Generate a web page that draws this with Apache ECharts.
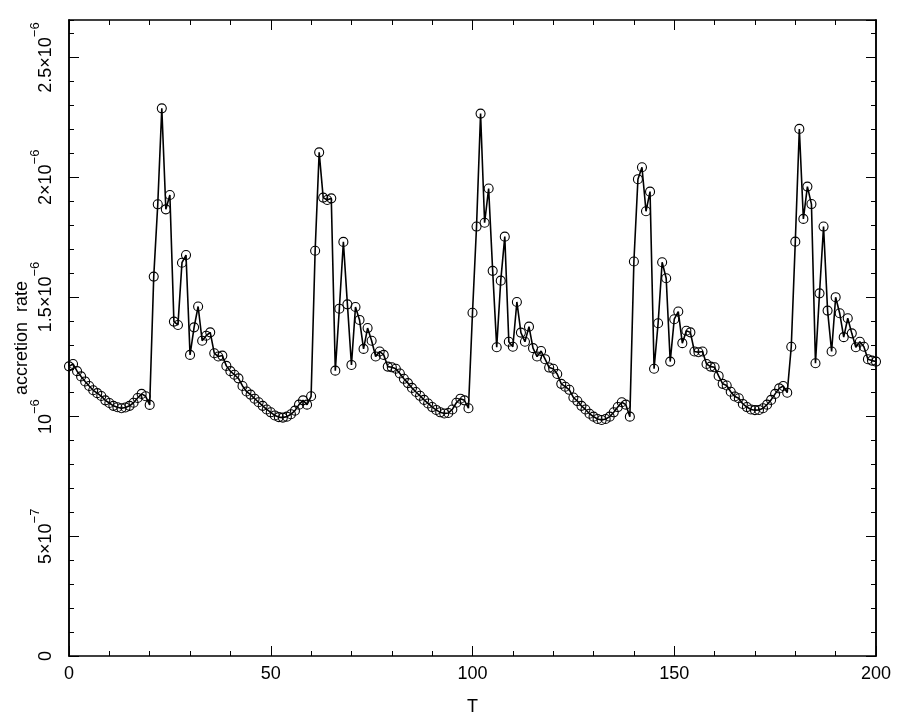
<!DOCTYPE html>
<html><head><meta charset="utf-8">
<script src="https://cdn.jsdelivr.net/npm/echarts@6/dist/echarts.min.js"></script>
<style>html,body{margin:0;padding:0;background:#fff}#c{width:903px;height:727px}</style>
</head><body><div id="c"></div>
<script>
// T = 0 .. 200, one sample per unit step
const tValues = [];
for (let t = 0; t <= 200; t++) tValues.push(t);

// accretion rate, in units of 1e-6
const rate = [
 1.210,1.220,1.190,1.168,1.147,1.128,1.110,1.098,1.086,1.068,
 1.057,1.045,1.039,1.035,1.038,1.045,1.058,1.078,1.095,1.085,
 1.049,1.585,1.887,2.288,1.866,1.926,1.397,1.383,1.643,1.675,
 1.258,1.373,1.460,1.317,1.338,1.352,1.265,1.251,1.255,1.212,
 1.190,1.175,1.160,1.128,1.105,1.092,1.075,1.060,1.045,1.030,
 1.018,1.005,0.998,0.996,1.000,1.010,1.025,1.050,1.068,1.050,
 1.085,1.693,2.104,1.915,1.905,1.912,1.192,1.451,1.730,1.469,
 1.216,1.458,1.404,1.283,1.370,1.317,1.251,1.272,1.258,1.209,
 1.206,1.200,1.180,1.158,1.140,1.120,1.103,1.087,1.070,1.055,
 1.040,1.028,1.018,1.013,1.015,1.030,1.058,1.075,1.068,1.035,
 1.434,1.794,2.266,1.810,1.953,1.609,1.290,1.568,1.752,1.313,
 1.292,1.479,1.351,1.313,1.376,1.286,1.251,1.274,1.240,1.205,
 1.200,1.178,1.137,1.125,1.112,1.080,1.065,1.045,1.030,1.012,
 1.000,0.990,0.986,0.990,1.000,1.018,1.040,1.060,1.050,1.000,
 1.648,1.992,2.042,1.858,1.940,1.200,1.390,1.645,1.578,1.230,
 1.407,1.439,1.307,1.359,1.352,1.272,1.269,1.272,1.220,1.209,
 1.206,1.170,1.137,1.130,1.104,1.084,1.077,1.053,1.040,1.030,
 1.027,1.028,1.035,1.050,1.070,1.095,1.118,1.128,1.100,1.292,
 1.731,2.202,1.826,1.961,1.888,1.223,1.515,1.794,1.443,1.272,
 1.499,1.432,1.332,1.411,1.348,1.290,1.313,1.292,1.240,1.234,
 1.230
];

const xTickLabels = ['0','50','100','150','200'];
// y tick labels (axis in units of 1e-6): [mantissa, exponent]
const yTickLabels = {
  '0':   ['0', ''],
  '0.5': ['5×10', '−7'],
  '1':   ['10', '−6'],
  '1.5': ['1.5×10', '−6'],
  '2':   ['2×10', '−6'],
  '2.5': ['2.5×10', '−6']
};

const X_MIN = 0, X_MAX = 200, Y_MIN = 0, Y_MAX = 2.657;
const FONT = 'Liberation Sans';
const axisLineStyle = {color: '#000', width: 1.5};

function xAxisDef(pos, showLabels) {
  return {
    type: 'value', min: X_MIN, max: X_MAX, interval: 50, position: pos,
    axisLine: {show: true, onZero: false, lineStyle: axisLineStyle},
    axisTick: {show: true, inside: true, length: 10, lineStyle: {color: '#000', width: 1}},
    minorTick: {show: true, splitNumber: 5, length: 5, lineStyle: {color: '#000', width: 1}},
    splitLine: {show: false},
    axisLabel: {show: showLabels, color: '#000', fontFamily: FONT, fontSize: 18, margin: 9,
      formatter: v => xTickLabels[xTickLabels.indexOf(String(v))] || ''},
    name: showLabels ? 'T' : '', nameLocation: 'middle', nameGap: 42, nameMoveOverlap: false,
    nameTextStyle: {color: '#000', fontFamily: FONT, fontSize: 18}
  };
}
function yAxisDef(pos, interval, tickLen, showLabels, withName) {
  return {
    type: 'value', min: Y_MIN, max: Y_MAX, interval: interval, position: pos,
    axisLine: {show: true, onZero: false, lineStyle: axisLineStyle},
    axisTick: {show: true, inside: true, length: tickLen, lineStyle: {color: '#000', width: 1}},
    splitLine: {show: false},
    axisLabel: {show: showLabels, rotate: 90, margin: 14, showMaxLabel: false,
      formatter: v => {
        const key = String(Math.round(v * 10) / 10);
        const l = yTickLabels[key];
        if (!l) return '';
        return l[1] ? '{b|' + l[0] + '}{s|' + l[1] + '}' : '{b|' + l[0] + '}';
      },
      rich: {
        b: {color: '#000', fontFamily: FONT, fontSize: 18, lineHeight: 26, verticalAlign: 'bottom'},
        s: {color: '#000', fontFamily: FONT, fontSize: 13, lineHeight: 12, verticalAlign: 'top'}
      }
    },
    name: withName ? 'accretion  rate' : '', nameLocation: 'middle', nameRotate: 90, nameGap: 38,
    nameMoveOverlap: false,
    nameTextStyle: {color: '#000', fontFamily: FONT, fontSize: 18}
  };
}

const chart = echarts.init(document.getElementById('c'), null, {renderer: 'canvas'});
chart.setOption({
  backgroundColor: '#fff',
  animation: false,
  grid: {left: 69, right: 27, top: 20, bottom: 71, containLabel: false, outerBoundsMode: 'none'},
  xAxis: [xAxisDef('bottom', true), xAxisDef('top', false)],
  yAxis: [
    yAxisDef('left', 0.5, 10, true, true),
    yAxisDef('left', 0.1, 5, false, false),
    yAxisDef('right', 0.5, 10, false, false),
    yAxisDef('right', 0.1, 5, false, false)
  ],
  series: [{
    type: 'line',
    xAxisIndex: 0, yAxisIndex: 0,
    data: tValues.map((t, i) => [t, rate[i]]),
    symbol: 'circle', symbolSize: 9, showAllSymbol: true,
    lineStyle: {color: '#000', width: 1.6},
    itemStyle: {color: 'rgba(0,0,0,0)', borderColor: '#000', borderWidth: 1.1},
    z: 3
  }]
});
</script></body></html>
